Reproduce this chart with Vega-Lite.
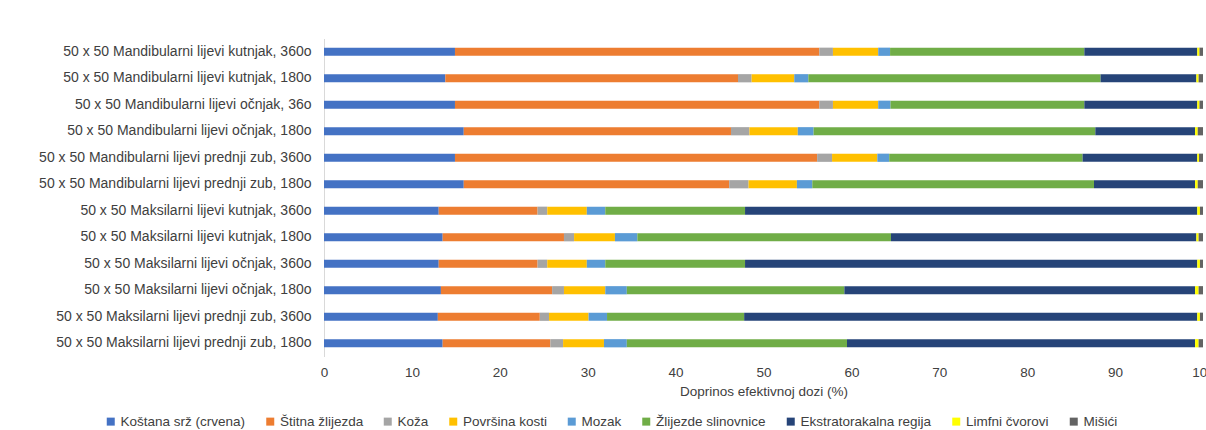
{
  "$schema": "https://vega.github.io/schema/vega-lite/v6.json",
  "autosize": {"type": "none"},
  "padding": {"left": 324, "top": 38.5, "right": 3, "bottom": 73},
  "width": 879,
  "height": 318,
  "background": "white",
  "config": {
    "view": {"stroke": null},
    "font": "Liberation Sans"
  },
  "data": {
    "values": [
      {"c": "50 x 50 Mandibularni lijevi kutnjak, 360o", "o": "Koštana srž (crvena)", "v": 14.9},
      {"c": "50 x 50 Mandibularni lijevi kutnjak, 360o", "o": "Štitna žlijezda", "v": 41.45},
      {"c": "50 x 50 Mandibularni lijevi kutnjak, 360o", "o": "Koža", "v": 1.55},
      {"c": "50 x 50 Mandibularni lijevi kutnjak, 360o", "o": "Površina kosti", "v": 5.15},
      {"c": "50 x 50 Mandibularni lijevi kutnjak, 360o", "o": "Mozak", "v": 1.35},
      {"c": "50 x 50 Mandibularni lijevi kutnjak, 360o", "o": "Žlijezde slinovnice", "v": 22.1},
      {"c": "50 x 50 Mandibularni lijevi kutnjak, 360o", "o": "Ekstratorakalna regija", "v": 12.85},
      {"c": "50 x 50 Mandibularni lijevi kutnjak, 360o", "o": "Limfni čvorovi", "v": 0.25},
      {"c": "50 x 50 Mandibularni lijevi kutnjak, 360o", "o": "Mišići", "v": 0.4},

      {"c": "50 x 50 Mandibularni lijevi kutnjak, 180o", "o": "Koštana srž (crvena)", "v": 13.8},
      {"c": "50 x 50 Mandibularni lijevi kutnjak, 180o", "o": "Štitna žlijezda", "v": 33.3},
      {"c": "50 x 50 Mandibularni lijevi kutnjak, 180o", "o": "Koža", "v": 1.55},
      {"c": "50 x 50 Mandibularni lijevi kutnjak, 180o", "o": "Površina kosti", "v": 4.85},
      {"c": "50 x 50 Mandibularni lijevi kutnjak, 180o", "o": "Mozak", "v": 1.6},
      {"c": "50 x 50 Mandibularni lijevi kutnjak, 180o", "o": "Žlijezde slinovnice", "v": 33.25},
      {"c": "50 x 50 Mandibularni lijevi kutnjak, 180o", "o": "Ekstratorakalna regija", "v": 10.9},
      {"c": "50 x 50 Mandibularni lijevi kutnjak, 180o", "o": "Limfni čvorovi", "v": 0.25},
      {"c": "50 x 50 Mandibularni lijevi kutnjak, 180o", "o": "Mišići", "v": 0.5},

      {"c": "50 x 50 Mandibularni lijevi očnjak, 36o", "o": "Koštana srž (crvena)", "v": 14.9},
      {"c": "50 x 50 Mandibularni lijevi očnjak, 36o", "o": "Štitna žlijezda", "v": 41.45},
      {"c": "50 x 50 Mandibularni lijevi očnjak, 36o", "o": "Koža", "v": 1.55},
      {"c": "50 x 50 Mandibularni lijevi očnjak, 36o", "o": "Površina kosti", "v": 5.15},
      {"c": "50 x 50 Mandibularni lijevi očnjak, 36o", "o": "Mozak", "v": 1.4},
      {"c": "50 x 50 Mandibularni lijevi očnjak, 36o", "o": "Žlijezde slinovnice", "v": 22.05},
      {"c": "50 x 50 Mandibularni lijevi očnjak, 36o", "o": "Ekstratorakalna regija", "v": 12.85},
      {"c": "50 x 50 Mandibularni lijevi očnjak, 36o", "o": "Limfni čvorovi", "v": 0.25},
      {"c": "50 x 50 Mandibularni lijevi očnjak, 36o", "o": "Mišići", "v": 0.4},

      {"c": "50 x 50 Mandibularni lijevi očnjak, 180o", "o": "Koštana srž (crvena)", "v": 15.9},
      {"c": "50 x 50 Mandibularni lijevi očnjak, 180o", "o": "Štitna žlijezda", "v": 30.4},
      {"c": "50 x 50 Mandibularni lijevi očnjak, 180o", "o": "Koža", "v": 2.1},
      {"c": "50 x 50 Mandibularni lijevi očnjak, 180o", "o": "Površina kosti", "v": 5.5},
      {"c": "50 x 50 Mandibularni lijevi očnjak, 180o", "o": "Mozak", "v": 1.8},
      {"c": "50 x 50 Mandibularni lijevi očnjak, 180o", "o": "Žlijezde slinovnice", "v": 32.05},
      {"c": "50 x 50 Mandibularni lijevi očnjak, 180o", "o": "Ekstratorakalna regija", "v": 11.35},
      {"c": "50 x 50 Mandibularni lijevi očnjak, 180o", "o": "Limfni čvorovi", "v": 0.3},
      {"c": "50 x 50 Mandibularni lijevi očnjak, 180o", "o": "Mišići", "v": 0.6},

      {"c": "50 x 50 Mandibularni lijevi prednji zub, 360o", "o": "Koštana srž (crvena)", "v": 14.9},
      {"c": "50 x 50 Mandibularni lijevi prednji zub, 360o", "o": "Štitna žlijezda", "v": 41.2},
      {"c": "50 x 50 Mandibularni lijevi prednji zub, 360o", "o": "Koža", "v": 1.7},
      {"c": "50 x 50 Mandibularni lijevi prednji zub, 360o", "o": "Površina kosti", "v": 5.15},
      {"c": "50 x 50 Mandibularni lijevi prednji zub, 360o", "o": "Mozak", "v": 1.35},
      {"c": "50 x 50 Mandibularni lijevi prednji zub, 360o", "o": "Žlijezde slinovnice", "v": 22.0},
      {"c": "50 x 50 Mandibularni lijevi prednji zub, 360o", "o": "Ekstratorakalna regija", "v": 13.05},
      {"c": "50 x 50 Mandibularni lijevi prednji zub, 360o", "o": "Limfni čvorovi", "v": 0.2},
      {"c": "50 x 50 Mandibularni lijevi prednji zub, 360o", "o": "Mišići", "v": 0.45},

      {"c": "50 x 50 Mandibularni lijevi prednji zub, 180o", "o": "Koštana srž (crvena)", "v": 15.9},
      {"c": "50 x 50 Mandibularni lijevi prednji zub, 180o", "o": "Štitna žlijezda", "v": 30.2},
      {"c": "50 x 50 Mandibularni lijevi prednji zub, 180o", "o": "Koža", "v": 2.2},
      {"c": "50 x 50 Mandibularni lijevi prednji zub, 180o", "o": "Površina kosti", "v": 5.5},
      {"c": "50 x 50 Mandibularni lijevi prednji zub, 180o", "o": "Mozak", "v": 1.75},
      {"c": "50 x 50 Mandibularni lijevi prednji zub, 180o", "o": "Žlijezde slinovnice", "v": 32.05},
      {"c": "50 x 50 Mandibularni lijevi prednji zub, 180o", "o": "Ekstratorakalna regija", "v": 11.5},
      {"c": "50 x 50 Mandibularni lijevi prednji zub, 180o", "o": "Limfni čvorovi", "v": 0.3},
      {"c": "50 x 50 Mandibularni lijevi prednji zub, 180o", "o": "Mišići", "v": 0.6},

      {"c": "50 x 50 Maksilarni lijevi kutnjak, 360o", "o": "Koštana srž (crvena)", "v": 13.05},
      {"c": "50 x 50 Maksilarni lijevi kutnjak, 360o", "o": "Štitna žlijezda", "v": 11.25},
      {"c": "50 x 50 Maksilarni lijevi kutnjak, 360o", "o": "Koža", "v": 1.1},
      {"c": "50 x 50 Maksilarni lijevi kutnjak, 360o", "o": "Površina kosti", "v": 4.5},
      {"c": "50 x 50 Maksilarni lijevi kutnjak, 360o", "o": "Mozak", "v": 2.1},
      {"c": "50 x 50 Maksilarni lijevi kutnjak, 360o", "o": "Žlijezde slinovnice", "v": 15.9},
      {"c": "50 x 50 Maksilarni lijevi kutnjak, 360o", "o": "Ekstratorakalna regija", "v": 51.45},
      {"c": "50 x 50 Maksilarni lijevi kutnjak, 360o", "o": "Limfni čvorovi", "v": 0.3},
      {"c": "50 x 50 Maksilarni lijevi kutnjak, 360o", "o": "Mišići", "v": 0.35},

      {"c": "50 x 50 Maksilarni lijevi kutnjak, 180o", "o": "Koštana srž (crvena)", "v": 13.5},
      {"c": "50 x 50 Maksilarni lijevi kutnjak, 180o", "o": "Štitna žlijezda", "v": 13.8},
      {"c": "50 x 50 Maksilarni lijevi kutnjak, 180o", "o": "Koža", "v": 1.15},
      {"c": "50 x 50 Maksilarni lijevi kutnjak, 180o", "o": "Površina kosti", "v": 4.65},
      {"c": "50 x 50 Maksilarni lijevi kutnjak, 180o", "o": "Mozak", "v": 2.55},
      {"c": "50 x 50 Maksilarni lijevi kutnjak, 180o", "o": "Žlijezde slinovnice", "v": 28.85},
      {"c": "50 x 50 Maksilarni lijevi kutnjak, 180o", "o": "Ekstratorakalna regija", "v": 34.75},
      {"c": "50 x 50 Maksilarni lijevi kutnjak, 180o", "o": "Limfni čvorovi", "v": 0.25},
      {"c": "50 x 50 Maksilarni lijevi kutnjak, 180o", "o": "Mišići", "v": 0.5},

      {"c": "50 x 50 Maksilarni lijevi očnjak, 360o", "o": "Koštana srž (crvena)", "v": 13.05},
      {"c": "50 x 50 Maksilarni lijevi očnjak, 360o", "o": "Štitna žlijezda", "v": 11.25},
      {"c": "50 x 50 Maksilarni lijevi očnjak, 360o", "o": "Koža", "v": 1.1},
      {"c": "50 x 50 Maksilarni lijevi očnjak, 360o", "o": "Površina kosti", "v": 4.5},
      {"c": "50 x 50 Maksilarni lijevi očnjak, 360o", "o": "Mozak", "v": 2.1},
      {"c": "50 x 50 Maksilarni lijevi očnjak, 360o", "o": "Žlijezde slinovnice", "v": 15.9},
      {"c": "50 x 50 Maksilarni lijevi očnjak, 360o", "o": "Ekstratorakalna regija", "v": 51.45},
      {"c": "50 x 50 Maksilarni lijevi očnjak, 360o", "o": "Limfni čvorovi", "v": 0.3},
      {"c": "50 x 50 Maksilarni lijevi očnjak, 360o", "o": "Mišići", "v": 0.35},

      {"c": "50 x 50 Maksilarni lijevi očnjak, 180o", "o": "Koštana srž (crvena)", "v": 13.3},
      {"c": "50 x 50 Maksilarni lijevi očnjak, 180o", "o": "Štitna žlijezda", "v": 12.65},
      {"c": "50 x 50 Maksilarni lijevi očnjak, 180o", "o": "Koža", "v": 1.35},
      {"c": "50 x 50 Maksilarni lijevi očnjak, 180o", "o": "Površina kosti", "v": 4.7},
      {"c": "50 x 50 Maksilarni lijevi očnjak, 180o", "o": "Mozak", "v": 2.45},
      {"c": "50 x 50 Maksilarni lijevi očnjak, 180o", "o": "Žlijezde slinovnice", "v": 24.75},
      {"c": "50 x 50 Maksilarni lijevi očnjak, 180o", "o": "Ekstratorakalna regija", "v": 39.9},
      {"c": "50 x 50 Maksilarni lijevi očnjak, 180o", "o": "Limfni čvorovi", "v": 0.4},
      {"c": "50 x 50 Maksilarni lijevi očnjak, 180o", "o": "Mišići", "v": 0.5},

      {"c": "50 x 50 Maksilarni lijevi prednji zub, 360o", "o": "Koštana srž (crvena)", "v": 12.95},
      {"c": "50 x 50 Maksilarni lijevi prednji zub, 360o", "o": "Štitna žlijezda", "v": 11.6},
      {"c": "50 x 50 Maksilarni lijevi prednji zub, 360o", "o": "Koža", "v": 1.05},
      {"c": "50 x 50 Maksilarni lijevi prednji zub, 360o", "o": "Površina kosti", "v": 4.5},
      {"c": "50 x 50 Maksilarni lijevi prednji zub, 360o", "o": "Mozak", "v": 2.1},
      {"c": "50 x 50 Maksilarni lijevi prednji zub, 360o", "o": "Žlijezde slinovnice", "v": 15.6},
      {"c": "50 x 50 Maksilarni lijevi prednji zub, 360o", "o": "Ekstratorakalna regija", "v": 51.55},
      {"c": "50 x 50 Maksilarni lijevi prednji zub, 360o", "o": "Limfni čvorovi", "v": 0.3},
      {"c": "50 x 50 Maksilarni lijevi prednji zub, 360o", "o": "Mišići", "v": 0.35},

      {"c": "50 x 50 Maksilarni lijevi prednji zub, 180o", "o": "Koštana srž (crvena)", "v": 13.5},
      {"c": "50 x 50 Maksilarni lijevi prednji zub, 180o", "o": "Štitna žlijezda", "v": 12.25},
      {"c": "50 x 50 Maksilarni lijevi prednji zub, 180o", "o": "Koža", "v": 1.45},
      {"c": "50 x 50 Maksilarni lijevi prednji zub, 180o", "o": "Površina kosti", "v": 4.65},
      {"c": "50 x 50 Maksilarni lijevi prednji zub, 180o", "o": "Mozak", "v": 2.6},
      {"c": "50 x 50 Maksilarni lijevi prednji zub, 180o", "o": "Žlijezde slinovnice", "v": 25.05},
      {"c": "50 x 50 Maksilarni lijevi prednji zub, 180o", "o": "Ekstratorakalna regija", "v": 39.6},
      {"c": "50 x 50 Maksilarni lijevi prednji zub, 180o", "o": "Limfni čvorovi", "v": 0.4},
      {"c": "50 x 50 Maksilarni lijevi prednji zub, 180o", "o": "Mišići", "v": 0.5}
    ]
  },
  "transform": [
    {"calculate": "indexof(['Koštana srž (crvena)', 'Štitna žlijezda', 'Koža', 'Površina kosti', 'Mozak', 'Žlijezde slinovnice', 'Ekstratorakalna regija', 'Limfni čvorovi', 'Mišići'], datum.o)", "as": "k"}
  ],
  "mark": {"type": "bar"},
  "encoding": {
    "y": {
      "field": "c",
      "type": "nominal",
      "sort": null,
      "scale": {"paddingInner": 0.69, "paddingOuter": 0.345},
      "axis": {
        "title": null,
        "ticks": false,
        "labelPadding": 13,
        "labelFontSize": 14,
        "labelColor": "#404040",
        "domainColor": "#d9d9d9",
        "labelLimit": 400
      }
    },
    "x": {
      "field": "v",
      "type": "quantitative",
      "stack": "zero",
      "scale": {"domain": [0, 100], "nice": false},
      "axis": {
        "values": [0, 10, 20, 30, 40, 50, 60, 70, 80, 90, 100],
        "title": "Doprinos efektivnoj dozi (%)",
        "titleFontSize": 13.5,
        "titleFontWeight": "normal",
        "titleColor": "#404040",
        "titlePadding": 5,
        "grid": false,
        "ticks": false,
        "domain": false,
        "labelPadding": 9,
        "labelFontSize": 13.5,
        "labelColor": "#404040",
        "labelFlush": false
      }
    },
    "order": {"field": "k", "type": "quantitative", "sort": "ascending"},
    "color": {
      "field": "o",
      "type": "nominal",
      "sort": ["Koštana srž (crvena)", "Štitna žlijezda", "Koža", "Površina kosti", "Mozak", "Žlijezde slinovnice", "Ekstratorakalna regija", "Limfni čvorovi", "Mišići"],
      "scale": {
        "domain": ["Koštana srž (crvena)", "Štitna žlijezda", "Koža", "Površina kosti", "Mozak", "Žlijezde slinovnice", "Ekstratorakalna regija", "Limfni čvorovi", "Mišići"],
        "range": ["#4472C4", "#ED7D31", "#A5A5A5", "#FFC000", "#5B9BD5", "#70AD47", "#264478", "#FFFF00", "#636363"]
      },
      "legend": {
        "title": null,
        "orient": "none",
        "direction": "horizontal",
        "legendX": -220,
        "legendY": 376,
        "symbolType": "square",
        "symbolSize": 64,
        "symbolStrokeWidth": 0,
        "labelFontSize": 13.5,
        "labelColor": "#404040",
        "labelOffset": 3,
        "columnPadding": 17.5,
        "labelLimit": 300
      }
    }
  }
}
